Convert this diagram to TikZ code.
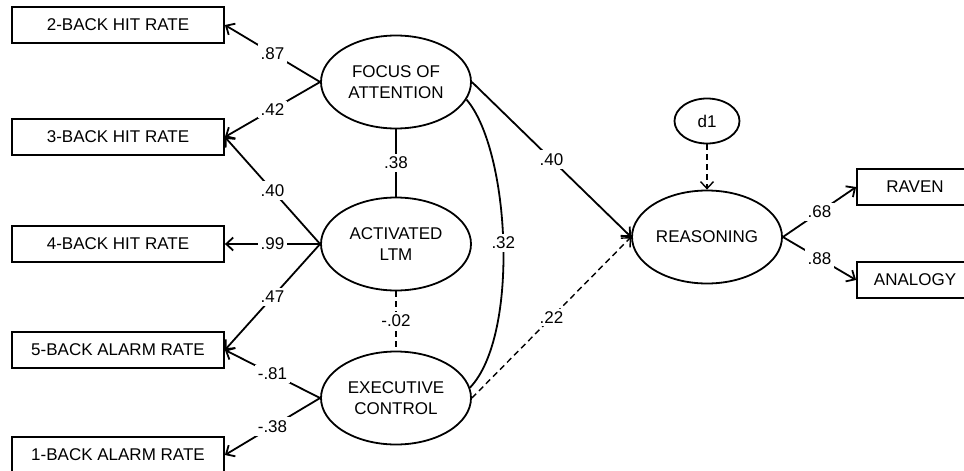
\documentclass[tikz,border=0pt]{standalone}
\usepackage{fontspec}
\setmainfont{Liberation Sans}
\usetikzlibrary{arrows.meta, positioning, shapes.geometric}

\begin{document}
\begin{tikzpicture}[x=1pt,y=-1pt]
  % Parameters
  \def\bx{118}        % centre x of the left boxes
  \def\lx{396}        % centre x of the three factors
  \def\rx{707}        % centre x of reasoning

  % Styles
  \tikzset{
    obs/.style={draw,line width=1.8pt,minimum width=212pt,minimum height=36pt,inner sep=0pt,font=\fontsize{17}{20}\selectfont},
    lat/.style={ellipse,draw,line width=1.8pt,minimum width=150pt,minimum height=93pt,inner sep=0pt,align=center,font=\fontsize{17}{21}\selectfont},
    load/.style={line width=1.8pt,-{Straight Barb[length=7pt,width=13pt]}},
    cov/.style={line width=1.8pt},
    dsh/.style={line width=1.4pt,dash pattern=on 6pt off 4pt},
    coef/.style={fill=white,inner sep=3pt,font=\fontsize{17}{20}\selectfont}
  }

  \useasboundingbox (0,0) rectangle (964,471);

  % Observed indicators
  \node[obs] (b2) at (\bx,25)  {2-BACK HIT RATE};
  \node[obs] (b3) at (\bx,137) {3-BACK HIT RATE};
  \node[obs] (b4) at (\bx,244) {4-BACK HIT RATE};
  \node[obs] (b5) at (\bx,350) {5-BACK ALARM RATE};
  \node[obs] (b1) at (\bx,455) {1-BACK ALARM RATE};
  \node[obs,minimum width=116pt] (raven) at (915,187) {RAVEN};
  \node[obs,minimum width=116pt] (analogy) at (915,280) {ANALOGY};

  % Latent factors
  \node[lat] (foa) at (\lx,82)  {FOCUS OF\\ATTENTION};
  \node[lat] (ltm) at (\lx,244) {ACTIVATED\\LTM};
  \node[lat] (exec) at (\lx,398) {EXECUTIVE\\CONTROL};
  \node[lat] (reas) at (\rx,237) {REASONING};
  \node[lat,minimum width=65pt,minimum height=45pt] (d1) at (\rx,121) {d1};

  % Loadings
  \draw[load] (foa.west) -- node[coef] {.87} (b2.east);
  \draw[load] (foa.west) -- node[coef] {.42} (b3.east);
  \draw[load] (ltm.west) -- node[coef] {.40} (b3.east);
  \draw[load] (ltm.west) -- node[coef] {.99} (b4.east);
  \draw[load] (ltm.west) -- node[coef] {.47} (b5.east);
  \draw[load] (exec.west) -- node[coef] {-.81} (b5.east);
  \draw[load] (exec.west) -- node[coef] {-.38} (b1.east);
  \draw[load] (reas.east) -- node[coef] {.68} (raven.west);
  \draw[load] (reas.east) -- node[coef] {.88} (analogy.west);

  % Correlations between factors
  \draw[cov] (foa.south) -- node[coef] {.38} (ltm.north);
  \draw[dsh] (ltm.south) -- node[coef] {-.02} (exec.north);
  \draw[cov] (foa.-14) .. controls (510,150) and (520,335) .. node[coef] {.32} (exec.8);

  % Paths to reasoning
  \draw[load] (foa.east) -- node[coef] {.40} (reas.west);
  \draw[load,dsh] (exec.east) -- node[coef] {.22} (reas.west);
  \draw[load,dsh] (d1.south) -- (reas.north);

\end{tikzpicture}
\end{document}
